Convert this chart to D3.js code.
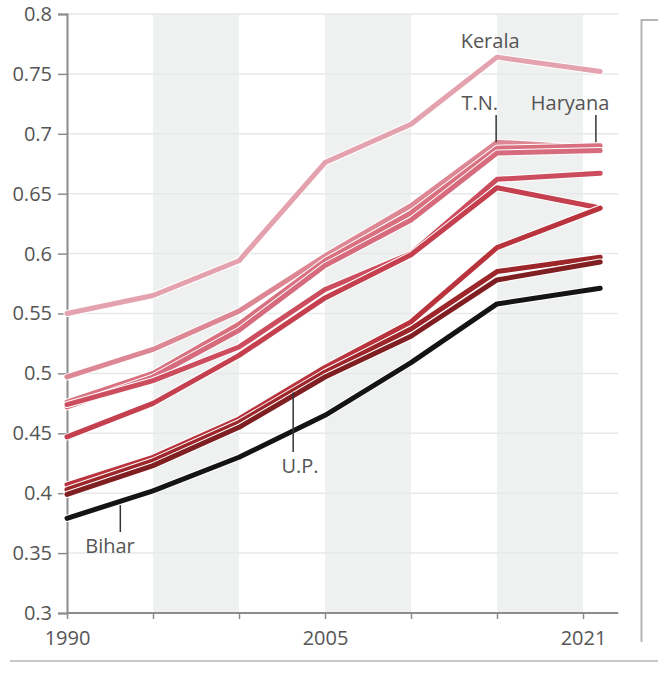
<!DOCTYPE html>
<html><head><meta charset="utf-8">
<script src="https://cdn.jsdelivr.net/npm/d3@7/dist/d3.min.js"></script>
<style>
html,body{margin:0;padding:0;background:#fff;}
svg{display:block;font-family:"Open Sans",sans-serif;}
</style></head>
<body>
<svg id="chart" width="658" height="675"></svg>
<script>
const years = [1990, 1995, 2000, 2005, 2010, 2015, 2021];
const kerala  = [0.550, 0.565, 0.594, 0.676, 0.708, 0.764, 0.752];
const tn      = [0.497, 0.520, 0.552, 0.598, 0.640, 0.693, 0.688];
const stateB  = [0.476, 0.500, 0.541, 0.594, 0.634, 0.688, 0.690];
const haryana = [0.472, 0.497, 0.536, 0.590, 0.628, 0.684, 0.686];
const stateD  = [0.474, 0.494, 0.522, 0.570, 0.600, 0.662, 0.667];
const stateE  = [0.447, 0.475, 0.515, 0.563, 0.599, 0.655, 0.638];
const stateF  = [0.407, 0.430, 0.462, 0.505, 0.543, 0.605, 0.638];
const up      = [0.403, 0.427, 0.459, 0.501, 0.537, 0.585, 0.597];
const stateH  = [0.399, 0.423, 0.455, 0.497, 0.531, 0.578, 0.593];
const bihar   = [0.379, 0.402, 0.430, 0.465, 0.509, 0.558, 0.571];

const seriesNames  = ["Kerala","T.N.","B","Haryana","D","E","F","U.P.","H","Bihar"];
const seriesValues = [kerala, tn, stateB, haryana, stateD, stateE, stateF, up, stateH, bihar];
const seriesColors = ["#e3a2ad","#dd8794","#d8707f","#d56b7c","#cc4d5e","#c4404f","#b8333c","#9c262a","#801f22","#141414"];

const xTickValues = [1990, 1995, 2000, 2005, 2010, 2015, 2020];
const xTickLabels = ["1990", "", "", "2005", "", "", "2021"];
const yTickValues = [0.3, 0.35, 0.4, 0.45, 0.5, 0.55, 0.6, 0.65, 0.7, 0.75, 0.8];
const bands = [[1995, 2000], [2005, 2010], [2015, 2020]];

const labels = [
  {text: "Kerala",  year: 2014.6, value: 0.7716, tick: null},
  {text: "T.N.",    year: 2014.0, value: 0.7199, tick: [2014.95, 0.7157, 0.6930]},
  {text: "Haryana", year: 2019.25, value: 0.7199, tick: [2020.75, 0.7157, 0.6930]},
  {text: "U.P.",    year: 2003.55, value: 0.4170, tick: [2003.15, 0.4840, 0.4344]},
  {text: "Bihar",   year: 1992.5, value: 0.3500, tick: [1993.1, 0.3900, 0.3676]}
];

const svg = d3.select("#chart");
const x = d3.scaleLinear().domain([1990, 2020]).range([67, 583]);
const y = d3.scaleLinear().domain([0.3, 0.8]).range([613, 14]);
const xEnd = 2022.05;

// bands
svg.append("g").selectAll("rect").data(bands).join("rect")
  .attr("x", d => x(d[0])).attr("width", d => x(d[1]) - x(d[0]))
  .attr("y", y(0.8)).attr("height", y(0.3) - y(0.8))
  .attr("fill", "#eff1f1");

// grid
svg.append("g").selectAll("line").data(yTickValues.filter(v => v > 0.3)).join("line")
  .attr("x1", x(1990)).attr("x2", x(xEnd))
  .attr("y1", d => y(d)).attr("y2", d => y(d))
  .attr("stroke", "#e5e9e9").attr("stroke-width", 1.5);

// y axis
const yAxis = svg.append("g").attr("transform", `translate(${x(1990)},0)`)
  .call(d3.axisLeft(y).tickValues(yTickValues).tickSize(9).tickPadding(6)
    .tickFormat(d => String(+d.toFixed(2))));
yAxis.select(".domain").attr("stroke", "#8c8c8c").attr("stroke-width", 2);
yAxis.selectAll(".tick line").attr("stroke", "#8c8c8c").attr("stroke-width", 1.5);
yAxis.selectAll(".tick text").attr("fill", "#555").style("font-size", "20px")
  .style("font-family", "'Open Sans',sans-serif");

// x axis
const xAxis = svg.append("g").attr("transform", `translate(0,${y(0.3)})`)
  .call(d3.axisBottom(x).tickValues(xTickValues).tickSize(6).tickPadding(12)
    .tickFormat((d, i) => xTickLabels[i]));
xAxis.select(".domain").attr("d", `M${x(1990)},0H${x(xEnd)}`)
  .attr("stroke", "#8c8c8c").attr("stroke-width", 2);
xAxis.selectAll(".tick line").attr("stroke", "#8c8c8c").attr("stroke-width", 1.5);
xAxis.selectAll(".tick text").attr("fill", "#555").style("font-size", "20px")
  .style("font-family", "'Open Sans',sans-serif");

// lines
const line = d3.line().x((d, i) => x(years[i])).y(d => y(d));
const lg = svg.append("g");
seriesValues.forEach((vals, k) => {
  lg.append("path").attr("d", line(vals)).attr("fill", "none")
    .attr("stroke", "#fff").attr("stroke-width", 7)
    .attr("stroke-linejoin", "round").attr("stroke-linecap", "round");
  lg.append("path").attr("d", line(vals)).attr("fill", "none")
    .attr("stroke", seriesColors[k]).attr("stroke-width", 5)
    .attr("stroke-linejoin", "round").attr("stroke-linecap", "round");
});

// annotations
const ag = svg.append("g");
labels.forEach(l => {
  ag.append("text").attr("x", x(l.year)).attr("y", y(l.value))
    .attr("text-anchor", "middle").attr("fill", "#555")
    .style("font-size", "20px").text(l.text);
  if (l.tick) {
    ag.append("line").attr("x1", x(l.tick[0])).attr("x2", x(l.tick[0]))
      .attr("y1", y(l.tick[1])).attr("y2", y(l.tick[2]))
      .attr("stroke", "#333").attr("stroke-width", 1.5);
  }
});

// frame decorations
svg.append("line").attr("x1", 10).attr("x2", 658).attr("y1", 661).attr("y2", 661)
  .attr("stroke", "#c8c8c8").attr("stroke-width", 2);
svg.append("path").attr("d", "M658,20H641.5V642").attr("fill", "none")
  .attr("stroke", "#b5b5b5").attr("stroke-width", 2);
</script>
</body></html>
